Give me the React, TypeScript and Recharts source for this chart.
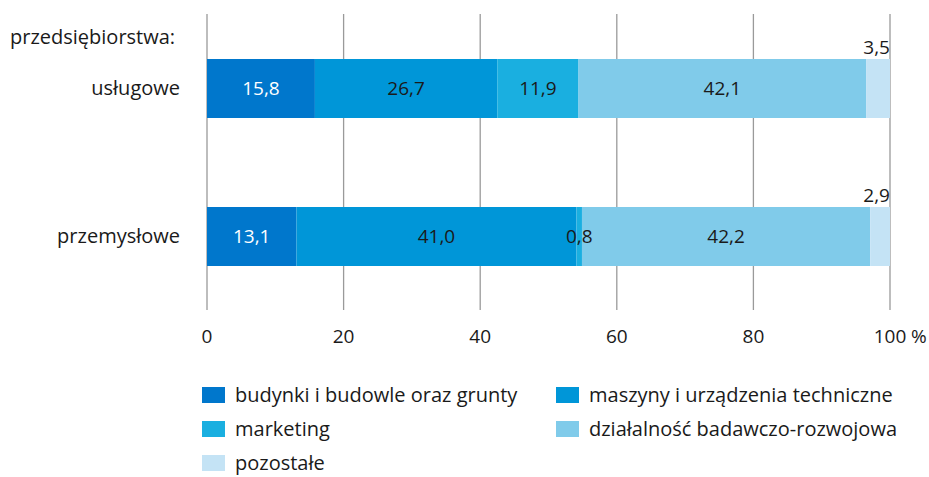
import { BarChart, Bar, XAxis, YAxis, CartesianGrid, LabelList } from 'recharts';

const categories = ['usługowe', 'przemysłowe'];
const budynki = [15.8, 13.1];
const maszyny = [26.7, 41.0];
const marketing = [11.9, 0.8];
const badawcze = [42.1, 42.2];
const pozostale = [3.5, 2.9];
const xTicks = [0, 20, 40, 60, 80, 100];

const SERIES = [
  { key: 'budynki', name: 'budynki i budowle oraz grunty', color: '#0077CC', text: '#ffffff' },
  { key: 'maszyny', name: 'maszyny i urządzenia techniczne', color: '#0096D8', text: '#1a1a1a' },
  { key: 'marketing', name: 'marketing', color: '#1AAFE0', text: '#1a1a1a' },
  { key: 'badawcze', name: 'działalność badawczo-rozwojowa', color: '#80CBEA', text: '#1a1a1a' },
  { key: 'pozostale', name: 'pozostałe', color: '#C4E3F5', text: '#1a1a1a' },
];

const data = categories.map((name, i) => ({
  name,
  budynki: budynki[i],
  maszyny: maszyny[i],
  marketing: marketing[i],
  badawcze: badawcze[i],
  pozostale: pozostale[i],
}));

const FONT = '"Open Sans", "Noto Sans", sans-serif';
const fmt = (v: number) => v.toFixed(1).replace('.', ',');

// recharts 3 passes the bar rect as viewBox
const box = (props: any) => {
  const vb = props.viewBox || {};
  return {
    x: Number(vb.x ?? props.x),
    y: Number(vb.y ?? props.y),
    width: Number(vb.width ?? props.width),
    height: Number(vb.height ?? props.height),
  };
};

function centerLabel(color: string) {
  return (props: any) => {
    const { x, y, width, height } = box(props);
    return (
      <text x={x + width / 2} y={y + height / 2} dy="0.35em" textAnchor="middle" fill={color} fontSize={19} fontFamily={FONT}>
        {fmt(props.value)}
      </text>
    );
  };
}

const topLabel = (props: any) => {
  const { x, y, width } = box(props);
  return (
    <text x={x + width} y={y - 5} textAnchor="end" fill="#1a1a1a" fontSize={19} fontFamily={FONT}>
      {fmt(props.value)}
    </text>
  );
};

const XTick = (props: any) => {
  const { x, y, payload } = props;
  return (
    <g>
      <text x={x} y={y} dy="0.71em" textAnchor="middle" fill="#1a1a1a" fontSize={19} fontFamily={FONT}>
        {payload.value}
      </text>
      {payload.value === 100 && (
        <text x={x + 21} y={y} dy="0.71em" textAnchor="start" fill="#1a1a1a" fontSize={19} fontFamily={FONT}>
          %
        </text>
      )}
    </g>
  );
};

export default function App() {
  return (
    <div style={{ position: 'absolute', left: 0, top: 0, width: 929, height: 477, background: '#fff', fontFamily: FONT, overflow: 'hidden' }}>
      <BarChart
        width={929}
        height={360}
        data={data}
        layout="vertical"
        margin={{ top: 14, right: 39, bottom: 0, left: 0 }}
        barSize={59}
      >
        <CartesianGrid horizontal={false} stroke="#9a9a9a" strokeWidth={1.3} />
        <XAxis
          type="number"
          domain={[0, 100]}
          ticks={xTicks}
          axisLine={false}
          tickLine={false}
          tickMargin={14}
          height={50}
          tick={<XTick />}
        />
        <YAxis
          type="category"
          dataKey="name"
          width={207}
          axisLine={false}
          tickLine={false}
          tickMargin={21}
          tick={{ fill: '#1a1a1a', fontSize: 20, fontFamily: FONT }}
        />
        {SERIES.map((s) => (
          <Bar key={s.key} dataKey={s.key} stackId="a" fill={s.color} isAnimationActive={false}>
            <LabelList dataKey={s.key} content={s.key === 'pozostale' ? topLabel : centerLabel(s.text)} />
          </Bar>
        ))}
      </BarChart>
      <div style={{ position: 'absolute', left: 10, top: 23, fontSize: 20, lineHeight: '28px', color: '#1a1a1a' }}>przedsiębiorstwa:</div>
      <div
        style={{
          position: 'absolute',
          left: 202,
          top: 385,
          display: 'grid',
          gridTemplateColumns: '354px auto',
          rowGap: 14,
          fontSize: 20,
          color: '#1a1a1a',
        }}
      >
        {SERIES.map((s) => (
          <div key={s.key} style={{ display: 'flex', alignItems: 'center', height: 20, lineHeight: '20px' }}>
            <span style={{ width: 23, height: 16, background: s.color, display: 'inline-block', marginRight: 10 }} />
            <span>{s.name}</span>
          </div>
        ))}
      </div>
    </div>
  );
}
